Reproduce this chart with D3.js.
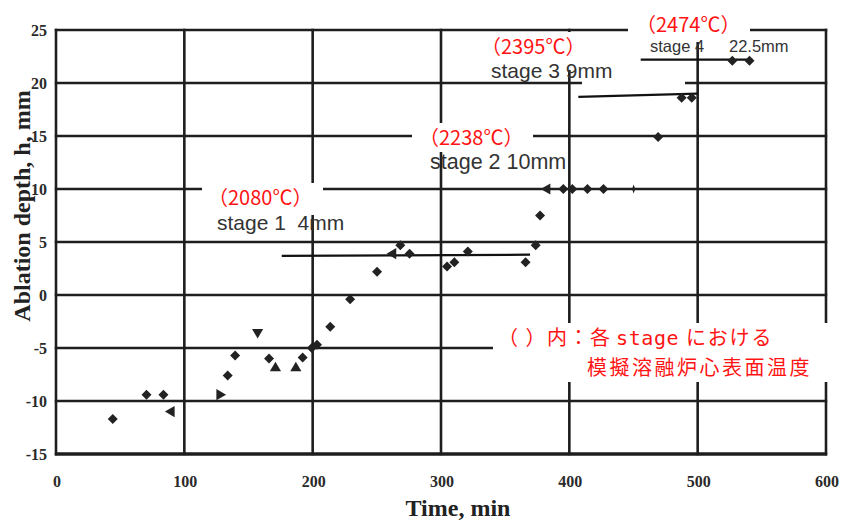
<!DOCTYPE html>
<html>
<head>
<meta charset="utf-8">
<script src="https://cdn.jsdelivr.net/npm/d3@7/dist/d3.min.js"></script>
<style>
  html, body { margin: 0; padding: 0; background: #fff; }
  svg { display: block; }
</style>
</head>
<body>
<svg id="chart" width="841" height="522"></svg>
<script>
// ---------------- data ----------------
const xTicks = [0, 100, 200, 300, 400, 500, 600];
const yTicks = [-15, -10, -5, 0, 5, 10, 15, 20, 25];

const times  = [44.2, 70.5, 83.7, 89.9, 127.5, 133.8, 139.6, 157.1, 166, 171, 186.9, 192.2, 199.3, 203.4,
                213.7, 229.2, 250.2, 262.6, 268.3, 275.5, 304.7, 310.4, 320.9, 365.9, 373.8, 377.2,
                382.7, 395.3, 402.3, 414.1, 426.6, 450.1, 469.2, 487.5, 495.4, 527, 540.4];
const depths = [-11.7, -9.4, -9.4, -11.0, -9.4, -7.6, -5.7, -3.5, -6.0, -6.9, -6.9, -5.9, -5.0, -4.7,
                -3.0, -0.4, 2.2, 3.9, 4.7, 3.9, 2.7, 3.1, 4.1, 3.1, 4.7, 7.5,
                10, 10, 10, 10, 10, 10, 14.9, 18.6, 18.6, 22.1, 22.1];
const shapes = ["diamond","diamond","diamond","left","right","diamond","diamond","down","diamond","up","up",
                "diamond","diamond","diamond","diamond","diamond","diamond","left","diamond","diamond",
                "diamond","diamond","diamond","diamond","diamond","diamond","left","diamond","diamond",
                "diamond","diamond","thin","diamond","diamond","diamond","diamond","diamond"];

// stage level lines
const stageStart = [175.9, 407, 455.6];
const stageEnd   = [369.4, 500, 542.5];
const stageY1    = [3.7, 18.7, 22.2];
const stageY2    = [3.8, 19.0, 22.2];

const stageTemps  = ["（2080℃）", "（2238℃）", "（2395℃）", "（2474℃）"];
const stageLabels = ["stage 1  4mm", "stage 2 10mm", "stage 3 9mm", "stage 4"];
const stage4Depth = "22.5mm";
const noteParts = ["（ ）内：各", "stage", "における"];
const noteLine2  = "模擬溶融炉心表面温度";
const xTitle = "Time, min";
const yTitle = "Ablation depth, h, mm";

// ---------------- layout ----------------
const svg = d3.select("#chart");
const x = d3.scaleLinear().domain([0, 600]).range([56, 826]);
const y = d3.scaleLinear().domain([-15, 25]).range([454, 30]);
const ink = "#1e1e1e";
const serif = "'Liberation Serif', 'Times New Roman', serif";
const sans = "'Liberation Sans', Arial, sans-serif";
const cjk = "'Noto Sans CJK JP', sans-serif";
const red = "#ff1414";

// grid
const grid = svg.append("g");
grid.selectAll("line.v").data(xTicks).join("line")
  .attr("x1", d => x(d)).attr("x2", d => x(d))
  .attr("y1", y(25) - 1.2).attr("y2", y(-15) + 1.2)
  .attr("stroke", ink).attr("stroke-width", 2.6);
grid.selectAll("line.h").data(yTicks).join("line")
  .attr("x1", x(0) - 1.2).attr("x2", x(600) + 1.2)
  .attr("y1", d => y(d)).attr("y2", d => y(d))
  .attr("stroke", ink).attr("stroke-width", d => d === -15 ? 3.4 : 2.6);

// tick labels
svg.append("g").selectAll("text").data(yTicks).join("text")
  .attr("x", 47).attr("y", d => y(d) + 6)
  .attr("text-anchor", "end")
  .style("font-family", serif)
  .style("font-weight", "bold").style("font-size", "16px").attr("fill", "#2a2a2a")
  .text(d => d);
svg.append("g").selectAll("text").data(xTicks).join("text")
  .attr("x", d => x(d) + 1).attr("y", 487)
  .attr("text-anchor", "middle")
  .style("font-family", serif)
  .style("font-weight", "bold").style("font-size", "16px").attr("fill", "#2a2a2a")
  .text(d => d);

// axis titles
svg.append("text").attr("x", 458).attr("y", 516).attr("text-anchor", "middle")
  .style("font-family", serif)
  .style("font-weight", "bold").style("font-size", "24px").attr("fill", "#222")
  .text(xTitle);
svg.append("text").attr("transform", "translate(30,206) rotate(-90)").attr("text-anchor", "middle")
  .style("font-family", serif)
  .style("font-weight", "bold").style("font-size", "24px").attr("fill", "#222")
  .text(yTitle);

// white label boxes covering the grid
const boxes = [[202,183,121,32],[412,123,121,29],[480,32,120,38],[582,40,103,50],[628,8,122,34],[493,323,340,59]];
svg.append("g").selectAll("rect").data(boxes).join("rect")
  .attr("x", d => d[0]).attr("y", d => d[1]).attr("width", d => d[2]).attr("height", d => d[3])
  .attr("fill", "#fff");

// stage lines
svg.append("g").selectAll("line").data(stageStart).join("line")
  .attr("x1", (d, i) => x(d)).attr("x2", (d, i) => x(stageEnd[i]))
  .attr("y1", (d, i) => y(stageY1[i])).attr("y2", (d, i) => y(stageY2[i]))
  .attr("stroke", "#111").attr("stroke-width", 2.2);

// markers
const pts = times.map((t, i) => ({t, h: depths[i], s: shapes[i]}));
const sq = d3.symbol().type(d3.symbolSquare).size(50)();
const tri = d3.symbol().type(d3.symbolTriangle).size(54)();
const rot = {left: -90, right: 90, down: 180, up: 0};
svg.append("g").selectAll("path").data(pts).join("path")
  .attr("d", d => d.s === "diamond" ? sq : d.s === "thin" ? "M0,-4.5L1.6,0L0,4.5L-1.6,0Z" : tri)
  .attr("transform", d => {
    const base = `translate(${x(d.t)},${y(d.h)})`;
    if (d.s === "diamond") return base + " rotate(45)";
    if (d.s === "thin") return base;
    return base + ` rotate(${rot[d.s]})`;
  })
  .attr("fill", "#222");

// annotation text
const tempX = [208, 419, 481, 636];
const tempY = [205, 145, 54, 31.7];
svg.append("g").selectAll("text").data(stageTemps).join("text")
  .attr("x", (d, i) => tempX[i]).attr("y", (d, i) => tempY[i])
  .style("font-family", cjk).style("font-size", "20px")
  .attr("fill", red).text(d => d);

const labX = [217, 430, 491, 650];
const labY = [230, 169, 78, 51.7];
const labSize = [21, 21.5, 21, 16.5];
svg.append("g").selectAll("text").data(stageLabels).join("text")
  .attr("x", (d, i) => labX[i]).attr("y", (d, i) => labY[i])
  .style("font-family", sans)
  .style("font-size", (d, i) => labSize[i] + "px")
  .attr("fill", "#333").style("white-space", "pre").text(d => d);
svg.append("text").attr("x", 729).attr("y", 51.7)
  .style("font-family", sans).style("font-size", "16.5px")
  .attr("fill", "#333").text(stage4Depth);

// note: two lines
const noteX = [498, 616, 686];
const noteFont = [cjk, "'DejaVu Sans Mono', monospace", cjk];
const noteLS = ["1.5px", "0.6px", "1.8px"];
svg.append("g").selectAll("text").data(noteParts).join("text")
  .attr("x", (d, i) => noteX[i]).attr("y", 345)
  .style("font-family", (d, i) => noteFont[i]).style("font-size", "20px")
  .attr("letter-spacing", (d, i) => noteLS[i])
  .style("white-space", "pre").attr("fill", red)
  .text(d => d);
svg.append("text").attr("x", 587).attr("y", 374.5)
  .style("font-family", cjk).style("font-size", "20px")
  .attr("letter-spacing", "2.5px").attr("fill", red).text(noteLine2);
</script>
</body>
</html>
